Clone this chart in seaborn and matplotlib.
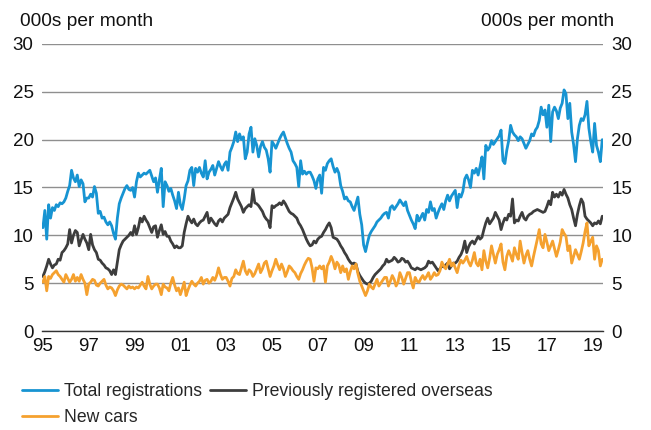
import numpy as np
import pandas as pd
import matplotlib
matplotlib.use("Agg")
import matplotlib.pyplot as plt
import seaborn as sns

# Monthly data, Jan 1995 - Jun 2019 (000s per month)
total_registrations = [
    10.8, 12.6, 9.6, 13.2, 11.8, 12.9, 12.6, 13.2, 13.0, 13.4, 13.3, 13.5,   # 1995
    13.9, 14.6, 15.2, 16.8, 16.0, 15.6, 16.3, 15.1, 15.8, 15.4, 13.5, 13.9,  # 1996
    13.9, 14.3, 14.0, 15.1, 14.4, 12.3, 12.5, 11.8, 11.9, 11.4, 11.1, 11.4,  # 1997
    11.0, 10.2, 9.6, 11.8, 13.3, 13.9, 14.4, 14.9, 15.2, 14.8, 14.7, 15.0,   # 1998
    14.0, 15.6, 16.5, 16.1, 16.3, 16.5, 16.4, 16.6, 16.8, 16.2, 15.6, 16.0,  # 1999
    14.5, 15.8, 17.0, 13.0, 15.6, 15.2, 14.6, 14.9, 14.2, 13.6, 12.8, 14.5,  # 2000
    13.2, 12.7, 13.8, 15.2, 15.7, 16.8, 17.1, 15.2, 17.0, 16.6, 17.1, 16.5,  # 2001
    16.1, 17.8, 15.9, 16.6, 16.9, 17.3, 16.3, 17.0, 17.7, 17.2, 16.8, 17.4,  # 2002
    17.7, 16.8, 18.7, 19.2, 19.8, 20.8, 19.8, 20.6, 20.0, 20.3, 18.0, 18.7,  # 2003
    20.6, 21.3, 18.7, 20.1, 19.4, 18.2, 19.3, 19.8, 19.2, 18.9, 18.0, 16.6,  # 2004
    19.8, 19.5, 19.1, 19.6, 20.1, 20.5, 20.8, 20.2, 19.6, 19.1, 18.7, 17.8,  # 2005
    17.5, 17.1, 15.1, 17.8, 16.4, 16.7, 16.4, 16.6, 16.6, 16.2, 15.7, 14.9,  # 2006
    15.9, 16.3, 14.4, 17.1, 16.8, 17.5, 17.8, 18.0, 17.2, 16.6, 17.0, 16.5,  # 2007
    15.2, 14.6, 13.8, 14.0, 13.6, 13.5, 13.0, 12.6, 13.3, 14.0, 12.2, 11.1,  # 2008
    9.0, 8.3, 9.2, 10.0, 10.4, 10.7, 11.0, 11.4, 11.6, 11.8, 12.1, 12.3,     # 2009
    12.4, 11.8, 12.9, 13.1, 12.7, 13.0, 13.3, 13.7, 13.4, 13.1, 13.5, 12.6,  # 2010
    12.1, 11.6, 11.2, 10.7, 12.1, 11.5, 11.9, 12.3, 11.6, 12.7, 12.4, 13.5,  # 2011
    12.6, 12.8, 11.8, 12.4, 12.9, 13.3, 12.7, 13.6, 14.2, 13.6, 14.1, 14.4,  # 2012
    14.7, 12.9, 14.3, 14.0, 14.6, 15.9, 16.3, 15.8, 15.0, 16.8, 16.5, 17.0,  # 2013
    16.3, 17.2, 18.2, 15.9, 19.4, 18.9, 19.2, 19.9, 19.5, 19.8, 20.1, 20.4,  # 2014
    21.0, 17.8, 17.5, 18.9, 19.9, 21.5, 20.8, 20.5, 20.3, 19.9, 20.3, 20.1,  # 2015
    19.6, 19.1, 19.5, 19.9, 20.6, 20.4, 21.0, 21.3, 22.0, 23.4, 22.6, 23.1,  # 2016
    21.3, 23.6, 19.8, 22.9, 23.4, 23.0, 22.2, 23.3, 23.8, 25.2, 24.8, 22.2,  # 2017
    23.8, 20.8, 19.5, 17.7, 20.1, 21.5, 22.2, 22.0, 22.6, 24.0, 21.2, 19.8,  # 2018
    18.7, 21.7, 19.4, 18.7, 17.7, 20.0,                                      # 2019
]

previously_registered_overseas = [
    5.7, 6.2, 6.8, 7.5, 7.0, 6.6, 6.9, 7.0, 7.5, 7.4, 8.2, 8.4,      # 1995
    8.7, 9.1, 10.6, 9.2, 10.0, 10.5, 10.3, 8.9, 9.5, 10.1, 9.6, 9.2, # 1996
    8.5, 10.1, 9.0, 8.5, 8.2, 7.5, 7.4, 7.1, 6.9, 6.6, 6.5, 6.3,     # 1997
    5.9, 6.4, 5.9, 7.2, 8.5, 9.0, 9.4, 9.6, 9.8, 10.0, 10.3, 10.0,   # 1998
    11.0, 10.1, 10.8, 11.8, 11.4, 12.0, 11.6, 11.3, 10.8, 10.3, 10.9, 11.0,  # 1999
    9.8, 10.5, 11.1, 10.1, 10.4, 9.9, 9.9, 9.4, 9.1, 8.7, 8.9, 8.7,  # 2000
    8.7, 8.9, 10.3, 11.2, 12.0, 11.6, 11.3, 11.7, 11.2, 11.0, 11.3, 11.5,    # 2001
    11.6, 12.0, 12.4, 11.3, 11.8, 11.5, 11.2, 11.0, 11.5, 11.7, 11.4, 11.8,  # 2002
    12.0, 12.2, 12.9, 13.4, 13.9, 14.5, 13.8, 13.4, 13.0, 12.4, 12.8, 13.0,  # 2003
    13.2, 13.0, 14.8, 13.4, 13.3, 13.1, 12.8, 12.5, 12.0, 11.7, 11.5, 10.8,  # 2004
    13.1, 12.9, 13.1, 13.2, 13.4, 13.2, 13.6, 13.3, 12.9, 12.5, 12.3, 12.2,  # 2005
    12.0, 11.8, 11.3, 11.0, 10.6, 10.1, 9.6, 9.2, 8.9, 9.0, 9.4, 9.2,        # 2006
    9.6, 9.8, 9.9, 10.3, 10.6, 11.0, 11.3, 10.8, 9.8, 9.7, 9.6, 9.3,         # 2007
    8.9, 8.6, 8.2, 7.9, 7.5, 7.2, 7.0, 7.1, 7.0, 6.2, 5.8, 5.5,              # 2008
    5.2, 5.0, 4.9, 5.0, 5.2, 5.6, 5.9, 6.1, 6.3, 6.5, 6.8, 7.0,              # 2009
    7.5, 7.2, 7.3, 7.4, 7.7, 7.5, 7.2, 7.3, 7.6, 7.5, 7.2, 7.3,              # 2010
    7.0, 6.6, 6.5, 6.4, 6.6, 6.5, 6.4, 6.5, 6.6, 6.8, 7.3, 7.1,              # 2011
    7.2, 6.9, 6.6, 6.3, 6.5, 6.8, 6.7, 6.9, 7.1, 6.5, 6.8, 7.1,              # 2012
    7.1, 7.3, 7.7, 8.0, 8.5, 9.4, 8.2, 8.8, 9.2, 9.4, 9.1, 9.5,              # 2013
    9.9, 9.6, 9.8, 10.6, 11.3, 11.8, 11.2, 11.5, 11.8, 12.4, 12.0, 11.6,     # 2014
    10.6, 11.3, 11.8, 11.6, 12.2, 12.0, 13.8, 11.3, 11.6, 11.5, 12.0, 12.4,  # 2015
    11.8, 11.6, 12.0, 12.2, 12.3, 12.5, 12.6, 12.7, 12.6, 12.5, 12.4, 12.5,  # 2016
    13.0, 13.6, 13.2, 14.5, 14.0, 14.3, 14.0, 14.5, 14.2, 14.8, 14.3, 13.9,  # 2017
    13.2, 12.7, 11.8, 11.0, 12.2, 13.1, 13.8, 13.4, 12.0, 11.7, 11.5, 11.3,  # 2018
    11.0, 11.3, 11.2, 11.5, 11.2, 12.0,                                      # 2019
]

new_cars = [
    5.1, 5.7, 4.2, 5.7, 5.5, 5.9, 6.1, 6.3, 5.9, 5.7, 5.4, 5.1,  # 1995
    5.9, 5.5, 5.1, 5.4, 5.9, 5.2, 5.6, 5.2, 5.9, 5.4, 5.0, 3.8,  # 1996
    4.9, 5.1, 5.4, 5.3, 4.8, 4.7, 5.0, 5.2, 5.4, 4.8, 4.4, 4.6,  # 1997
    4.5, 4.2, 3.7, 4.3, 4.7, 4.9, 4.8, 4.6, 4.4, 4.7, 4.5, 4.6,  # 1998
    4.4, 4.6, 4.5, 4.8, 5.1, 4.7, 4.4, 5.7, 4.9, 4.4, 4.7, 4.9,  # 1999
    4.9, 4.5, 3.8, 4.9, 4.6, 4.5, 4.2, 5.0, 5.6, 4.8, 4.2, 4.5,  # 2000
    3.8, 4.4, 5.1, 3.7, 4.3, 4.8, 5.2, 4.9, 4.7, 5.0, 5.2, 5.6,  # 2001
    4.9, 5.3, 5.4, 5.0, 5.2, 5.6, 5.3, 5.8, 6.6, 5.9, 5.4, 5.6,  # 2002
    5.6, 5.2, 4.7, 5.5, 5.7, 6.4, 6.0, 5.9, 6.6, 7.3, 6.3, 5.9,  # 2003
    6.4, 6.2, 5.7, 6.0, 6.5, 7.0, 6.1, 6.5, 7.1, 7.3, 6.5, 5.7,  # 2004
    6.3, 6.8, 7.5, 6.9, 6.4, 7.0, 6.5, 5.7, 6.2, 6.8, 6.6, 6.3,  # 2005
    6.1, 5.7, 5.4, 6.0, 6.4, 6.9, 7.3, 7.6, 7.5, 6.6, 5.2, 6.6,  # 2006
    6.5, 6.8, 6.5, 6.8, 5.1, 6.8, 7.2, 7.8, 7.3, 6.5, 7.2, 6.9,  # 2007
    6.1, 6.8, 6.2, 6.5, 5.4, 6.2, 6.8, 6.5, 7.0, 6.0, 5.2, 4.7,  # 2008
    4.2, 3.7, 4.2, 4.9, 4.6, 4.4, 4.9, 5.4, 4.7, 5.0, 5.3, 5.6,  # 2009
    5.6, 4.7, 5.2, 5.8, 5.4, 4.7, 5.1, 6.1, 5.6, 4.9, 5.5, 6.1,  # 2010
    6.1, 5.2, 4.5, 5.6, 5.2, 5.1, 5.5, 5.8, 5.4, 5.7, 6.1, 5.4,  # 2011
    5.7, 6.1, 5.8, 5.9, 6.3, 7.2, 6.8, 6.5, 7.0, 7.5, 6.8, 7.1,  # 2012
    6.6, 6.1, 6.9, 7.4, 7.1, 7.4, 7.8, 7.2, 6.8, 7.4, 8.2, 7.1,  # 2013
    6.8, 7.5, 6.4, 8.4, 7.3, 6.6, 7.6, 8.9, 8.0, 7.1, 8.0, 8.5,  # 2014
    9.1, 7.2, 6.4, 7.8, 8.4, 7.9, 7.3, 8.7, 8.0, 7.5, 9.4, 8.2,  # 2015
    7.1, 7.9, 8.4, 7.5, 6.8, 7.8, 8.7, 9.6, 10.6, 9.1, 8.7, 10.1,  # 2016
    9.3, 8.4, 8.9, 9.4, 8.6, 7.8, 8.5, 9.3, 10.6, 10.2, 9.9, 8.4,  # 2017
    8.9, 7.1, 7.8, 8.5, 8.0, 7.5, 8.3, 9.2, 10.4, 11.3, 8.9, 9.4,  # 2018
    9.8, 7.5, 8.9, 8.4, 6.8, 7.5,                                  # 2019
]

series_names = ["Total registrations", "Previously registered overseas", "New cars"]
series_colors = ["#1794d2", "#3d3d3d", "#f5a12f"]
x_tick_years = list(range(1995, 2020, 2))
x_tick_labels = ["95", "97", "99", "01", "03", "05", "07", "09", "11", "13", "15", "17", "19"]
y_ticks = [0, 5, 10, 15, 20, 25, 30]
unit_label = "000s per month"
start_year = 1995

n = len(total_registrations)
assert len(previously_registered_overseas) == n and len(new_cars) == n
years = start_year + np.arange(n) / 12.0

df = pd.concat([
    pd.DataFrame({"year": years, "value": vals, "series": name})
    for name, vals in zip(series_names,
                          [total_registrations, previously_registered_overseas, new_cars])
], ignore_index=True)

sns.set_style("white")
plt.rcParams["font.family"] = ["Liberation Sans", "DejaVu Sans"]

fig = plt.figure(figsize=(6.51, 4.30), dpi=100)
ax = fig.add_axes([42 / 651, 1 - 331 / 430, (603 - 42) / 651, (331 - 44) / 430])

palette = dict(zip(series_names, series_colors))
for name in ["Previously registered overseas", "New cars", "Total registrations"]:
    sns.lineplot(data=df[df["series"] == name], x="year", y="value", color=palette[name],
                 linewidth=2.0, estimator=None, ax=ax, legend=False)

ax.set_xlim(1994.96, 2019.45)
ax.set_ylim(0, 30)
ax.set_xticks(x_tick_years)
ax.set_xticklabels(x_tick_labels)
ax.set_yticks(y_ticks)
ax.set_yticklabels([str(v) for v in y_ticks])
ax.set_xlabel("")
ax.set_ylabel("")
ax.yaxis.grid(True, color="#8f8f8f", linewidth=1.0)
ax.xaxis.grid(False)
ax.set_axisbelow(True)
for s in ["top", "left", "right"]:
    ax.spines[s].set_visible(False)
ax.spines["bottom"].set_color("#333333")
ax.spines["bottom"].set_linewidth(1.0)
ax.tick_params(axis="y", length=0, labelsize=13.5, labelleft=True, labelright=True, pad=6,
               colors="#111111")
ax.tick_params(axis="x", length=0, labelsize=13.5, pad=5, colors="#111111")

fig.text(20 / 651, 1 - 26 / 430, unit_label, ha="left", va="baseline", fontsize=13.8, color="#111111")
fig.text(614 / 651, 1 - 26 / 430, unit_label, ha="right", va="baseline", fontsize=13.8, color="#111111")

handles = [plt.Line2D([], [], color=c, linewidth=2.0) for c in series_colors]
order = [0, 2, 1]
fig.legend([handles[i] for i in order], [series_names[i] for i in order],
           loc="upper left", bbox_to_anchor=(21.5 / 651, 1 - 383 / 430), ncol=2, frameon=False,
           fontsize=12.7, handlelength=2.05, handletextpad=0.35, columnspacing=0.45,
           labelspacing=0.5, borderpad=0, borderaxespad=0)

fig.savefig("out.png", dpi=100)
